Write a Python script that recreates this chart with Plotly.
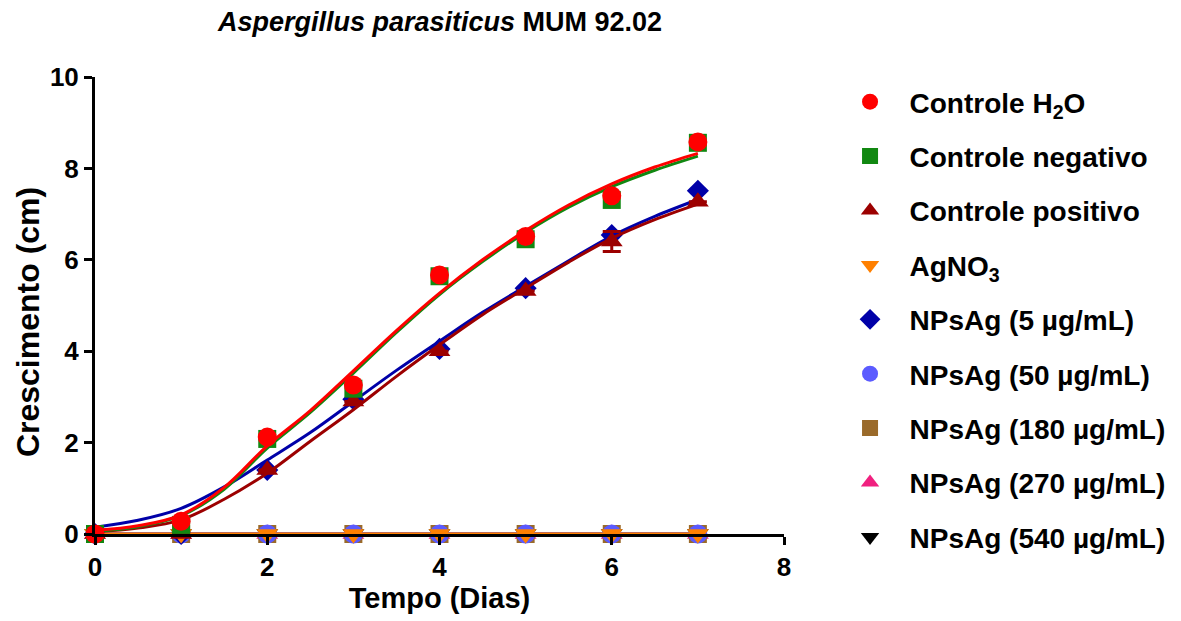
import plotly.graph_objects as go

# ---- data ----
dias = [0, 1, 2, 3, 4, 5, 6, 7]
h2o = [0.0, 0.28, 2.12, 3.26, 5.67, 6.51, 7.40, 8.58]
negativo = [0.0, 0.20, 2.08, 3.18, 5.64, 6.45, 7.31, 8.56]
positivo = [0.0, 0.0, 1.40, 2.90, 4.00, 5.32, 6.40, 7.27]
positivo_err = [0, 0, 0, 0, 0, 0, 0.22, 0]
agno3 = [0, 0, 0, 0, 0, 0, 0, 0]
nps5 = [0.0, 0.0, 1.40, 2.95, 4.05, 5.38, 6.54, 7.51]
nps50 = [0, 0, 0, 0, 0, 0, 0, 0]
nps180 = [0, 0, 0, 0, 0, 0, 0, 0]
nps270 = [0, 0, 0, 0, 0, 0, 0, 0]
nps540 = [0, 0, 0, 0, 0, 0, 0, 0]

# fitted curves
fit_x = [0, 0.5, 1, 1.5, 2, 2.5, 3, 3.5, 4, 4.5, 5, 5.5, 6, 6.5, 7]
fit_h2o = [0.08, 0.18, 0.42, 1.02, 1.93, 2.70, 3.57, 4.45, 5.27, 6.00, 6.64, 7.20, 7.66, 8.03, 8.33]
fit_negativo = [0.06, 0.16, 0.40, 0.98, 1.88, 2.66, 3.52, 4.41, 5.24, 5.96, 6.60, 7.15, 7.60, 7.96, 8.27]
fit_positivo = [0.05, 0.13, 0.31, 0.76, 1.33, 2.03, 2.72, 3.45, 4.14, 4.80, 5.38, 5.95, 6.47, 6.88, 7.22]
fit_nps5 = [0.15, 0.30, 0.56, 1.03, 1.62, 2.22, 2.90, 3.58, 4.22, 4.85, 5.42, 5.98, 6.52, 6.95, 7.32]
fit_zero = [0] * 15

series = [
    # name, y, fit, color, symbol, err
    ("Controle H<sub>2</sub>O", h2o, fit_h2o, "#ff0000", "circle", None),
    ("Controle negativo", negativo, fit_negativo, "#118811", "square", None),
    ("Controle positivo", positivo, fit_positivo, "#9c0000", "triangle-up", positivo_err),
    ("AgNO<sub>3</sub>", agno3, fit_zero, "#ff8000", "triangle-down", None),
    ("NPsAg (5 µg/mL)", nps5, fit_nps5, "#0000a8", "diamond", None),
    ("NPsAg (50 µg/mL)", nps50, fit_zero, "#5b5bff", "circle", None),
    ("NPsAg (180 µg/mL)", nps180, fit_zero, "#9a6a2a", "square", None),
    ("NPsAg (270 µg/mL)", nps270, fit_zero, "#f0207f", "triangle-up", None),
    ("NPsAg (540 µg/mL)", nps540, fit_zero, "#000000", "triangle-down", None),
]

FONT = "Arial, Liberation Sans, sans-serif"
fig = go.Figure()

# draw in reverse so the first dataset ends on top (like GraphPad)
for rank in range(len(series) - 1, -1, -1):
    name, y, fit, color, sym, err = series[rank]
    fig.add_trace(go.Scatter(
        x=fit_x, y=fit, mode="lines",
        line=dict(color=color, width=3, shape="spline", smoothing=1.0),
        showlegend=False, hoverinfo="skip", cliponaxis=False))
    size = {"circle": 19, "square": 18, "diamond": 17}.get(sym, 19)
    fig.add_trace(go.Scatter(
        x=dias, y=y, mode="markers", name=name,
        marker=dict(color=color, symbol=sym, size=size, line=dict(width=0)),
        error_y=(dict(type="data", array=err, color=color, thickness=3, width=9)
                 if err else None),
        legendrank=rank + 1, legendgroup=f"g{rank}", cliponaxis=False))

fig.update_layout(
    width=1181, height=621,
    margin=dict(l=95, r=396, t=77, b=87),
    paper_bgcolor="white", plot_bgcolor="white",
    font=dict(family=FONT, size=20, color="black"),
    title=dict(text="<i>Aspergillus parasiticus</i> MUM 92.02",
               x=440 / 1181, xanchor="center", y=1 - 22 / 621, yanchor="middle",
               font=dict(family=FONT, size=27, color="black", weight="bold")),
    legend=dict(x=1.066, y=1.0, xanchor="left", yanchor="top",
                font=dict(family=FONT, size=28, color="black", weight="bold"),
                tracegroupgap=15, bgcolor="rgba(0,0,0,0)", itemsizing="trace",
                itemwidth=69, maxheight=620),
    showlegend=True,
    annotations=[dict(text="Crescimento (cm)", textangle=-90,
                      xref="paper", yref="paper",
                      x=-67 / 690, y=(534 - 322) / 457,
                      xanchor="center", yanchor="middle", showarrow=False,
                      font=dict(family=FONT, size=32, color="black", weight="bold"))],
)

fig.update_xaxes(
    range=[0, 8], tickvals=[0, 2, 4, 6, 8], ticktext=["0", "2", "4", "6", "8"],
    showline=True, linecolor="black", linewidth=3, ticks="outside",
    ticklen=8, tickwidth=3, tickcolor="black", showgrid=False, zeroline=False,
    tickfont=dict(family=FONT, size=26, color="black", weight="bold"),
    title=dict(text="Tempo (Dias)", standoff=7,
               font=dict(family=FONT, size=29, color="black", weight="bold")))
fig.update_yaxes(
    range=[0, 10], tickvals=[0, 2, 4, 6, 8, 10],
    showline=True, linecolor="black", linewidth=3, ticks="outside",
    ticklen=8, tickwidth=3, tickcolor="black", showgrid=False, zeroline=False,
    tickfont=dict(family=FONT, size=26, color="black", weight="bold"))

fig.write_html("out.html")
